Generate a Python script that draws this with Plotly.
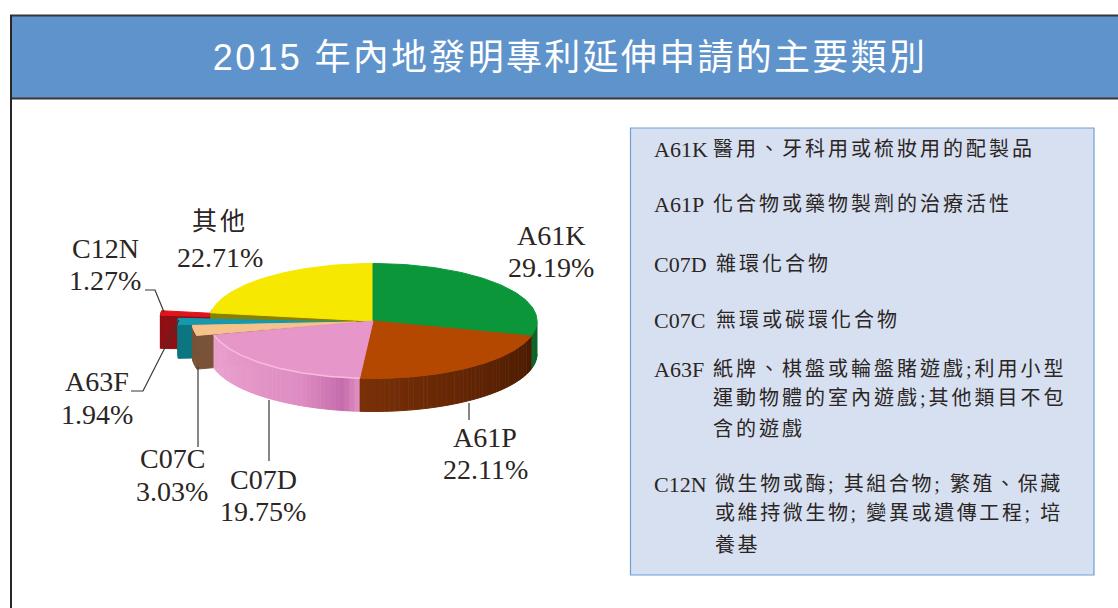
import numpy as np
import plotly.graph_objects as go

# ---- data ----
TITLE = "2015 年內地發明專利延伸申請的主要類別"
categories = ["A61K", "A61P", "C07D", "C07C", "A63F", "C12N", "其他"]
shares = [29.19, 22.11, 19.75, 3.03, 1.94, 1.27, 22.71]
share_labels = ["29.19%", "22.11%", "19.75%", "3.03%", "1.94%", "1.27%", "22.71%"]
legend_codes = ["A61K", "A61P", "C07D", "C07C", "A63F", "C12N"]
legend_lines = [
    ["醫用、牙科用或梳妝用的配製品"],
    ["化合物或藥物製劑的治療活性"],
    ["雜環化合物"],
    ["無環或碳環化合物"],
    ["紙牌、棋盤或輪盤賭遊戲;利用小型", "運動物體的室內遊戲;其他類目不包", "含的遊戲"],
    ["微生物或酶; 其組合物; 繁殖、保藏", "或維持微生物; 變異或遺傳工程; 培", "養基"],
]

# ---- style ----
W, H = 1118, 608
CX, CY, RX, RY, DEPTH = 373, 321, 164, 57.5, 33
top_colors = ["#0A9639", "#B44800", "#E696C8", "#F6C28C", "#1499AE", "#DF151D", "#F6E800"]
side_stops = [
    ["#0A6E2A", "#0A5A22"], ["#4A1A00", "#7A3008"], ["#E08FC4", "#EBA3CF"],
    ["#7A5238", "#7A5238"], ["#0A7682", "#0A7682"], ["#8E0F14", "#8E0F14"], ["#8A8000", "#8A8000"],
]
offsets = [(0, 0), (0, 0), (0, 0), (-17, 1), (-31, 1), (-49, -2), (0, 0)]
draw_order = [5, 6, 4, 3, 0, 1, 2]
SERIF = "Liberation Serif, Noto Sans CJK TC, serif"
INK = "#2b2523"

fig = go.Figure()


def poly(xs, ys, color, line=None):
    fig.add_trace(go.Scatter(
        x=xs, y=ys, mode="lines", fill="toself", fillcolor=color,
        line=dict(color=line or color, width=1),
        hoverinfo="skip", showlegend=False))


def hex2rgb(c):
    return np.array([int(c[i:i + 2], 16) for i in (1, 3, 5)], float)


def mix(a, b, t):
    v = hex2rgb(a) * (1 - t) + hex2rgb(b) * t
    return "rgb(%d,%d,%d)" % tuple(v.round())


def px(th, dx=0, dy=0):
    return CX + dx + RX * np.sin(th), CY + dy - RY * np.cos(th)


def rim_color(i, t):
    if i == 2:  # pink rim: pale at the left, deeper magenta, pale again at the seam
        if t < 0.08:
            return mix("#E493C2", "#C46CAC", t / 0.08)
        if t < 0.3:
            return mix("#C46CAC", "#DE8CC2", (t - 0.08) / 0.22)
        return mix("#DE8CC2", "#EBA3CF", (t - 0.3) / 0.7)
    return mix(side_stops[i][0], side_stops[i][1], t)


edges = np.cumsum([0] + shares) / sum(shares) * 2 * np.pi

for i in draw_order:
    a1, a2 = edges[i], edges[i + 1]
    dx, dy = offsets[i]
    tipx, tipy = CX + dx, CY + dy
    # front-facing radial wall of the pulled-out slices
    if i in (3, 4, 5, 6):
        ox, oy = px(a1, dx, dy)
        poly([tipx, ox, ox, tipx], [tipy, oy, oy + DEPTH, tipy + DEPTH], side_stops[i][1])
    # outer rim, shaded in small steps
    vis1, vis2 = max(a1, np.pi / 2), min(a2, 3 * np.pi / 2 + 0.2)
    if i in (3, 4, 5):
        vis1, vis2 = a1, a2
    if vis2 > vis1:
        n = max(2, int((vis2 - vis1) / 0.03))
        grid = np.linspace(vis1, vis2, n + 1)
        for k in range(n):
            x1, y1 = px(grid[k], dx, dy)
            x2, y2 = px(grid[k + 1], dx, dy)
            poly([x1, x2, x2, x1], [y1, y2, y2 + DEPTH, y1 + DEPTH], rim_color(i, (k + 0.5) / n))
    # top face
    th = np.linspace(a1, a2, 80)
    ax, ay = px(th, dx, dy)
    poly(np.r_[tipx, ax, tipx], np.r_[tipy, ay, tipy], top_colors[i])
    if i == 2:
        fig.add_trace(go.Scatter(x=ax, y=ay, mode="lines",
                                 line=dict(color="#F6BCDF", width=1.5),
                                 hoverinfo="skip", showlegend=False))

annotations = []
spaced = {}


def note(x, y, text, size, color=INK, anchor="center", family=SERIF, spacing=None):
    if spacing is not None:
        spaced[len(annotations)] = spacing
    annotations.append(dict(x=x, y=y, xref="x", yref="y", text=text, showarrow=False,
                            xanchor=anchor, yanchor="middle",
                            font=dict(family=family, size=size, color=color)))


note(570, 57, TITLE, 36, "#FFFFFF", family="Liberation Sans, Noto Sans CJK TC, sans-serif", spacing=2.3)

label_pos = {
    "A61K": (551, 235, 267), "A61P": (485, 437, 469), "C07D": (263, 479, 511),
    "C07C": (172, 458, 491), "A63F": (97, 381, 414), "C12N": (105, 248, 280), "其他": (220, 221, 257),
}
for c, s in zip(categories, share_labels):
    x, y1, y2 = label_pos[c]
    note(x, y1, c, 25 if c == "其他" else 28, spacing=3 if c == "其他" else None)
    note(x, y2, s, 28)

legend_y = [[149], [204], [264], [320], [369, 398, 429], [484, 513, 545]]
legend_x = [713, 713, 716, 716, 713, 715]
for code, lines, ys, lx in zip(legend_codes, legend_lines, legend_y, legend_x):
    note(652, ys[0], code, 22, anchor="left")
    for t, y in zip(lines, ys):
        note(lx - 2, y, t, 20, anchor="left", spacing=2.6 if code == "C12N" else 3)

shapes = [
    dict(type="rect", x0=11, x1=W + 5, y0=15.5, y1=98.5, fillcolor="#5F93CC",
         line=dict(color="#3a3633", width=2), layer="below"),
    dict(type="line", x0=11, x1=11, y0=15, y1=H + 5, line=dict(color="#2b2523", width=2)),
    dict(type="rect", x0=630.5, x1=1094, y0=128, y1=575, fillcolor="#D6E0F1",
         line=dict(color="#6E9FD6", width=1.2), layer="below"),
]
leaders = [
    ([145, 155, 164], [290, 290, 312]),
    ([131, 143, 179], [391, 391, 320]),
    ([198, 198], [367, 447]),
    ([269, 269], [400, 461]),
    ([469, 469], [403, 420]),
]
for xs, ys in leaders:
    fig.add_trace(go.Scatter(x=xs, y=ys, mode="lines", line=dict(color="#3a3633", width=1.2),
                             hoverinfo="skip", showlegend=False))

fig.update_layout(
    width=W, height=H, margin=dict(l=0, r=0, t=0, b=0),
    paper_bgcolor="#FFFFFF", plot_bgcolor="#FFFFFF",
    xaxis=dict(range=[0, W], visible=False, fixedrange=True),
    yaxis=dict(range=[H, 0], visible=False, fixedrange=True),
    annotations=annotations, shapes=shapes, showlegend=False,
)

left_flags = {i: annotations[i]["xanchor"] == "left" for i in spaced}
spacing_js = "".join(
    "sp(%d,%s,%s);" % (i, s, "true" if left_flags[i] else "false") for i, s in spaced.items()
)
post = (
    "document.body.style.margin='0';document.body.style.overflow='hidden';"
    "var t=document.querySelectorAll('.annotation-text');"
    "function sp(i,s,left){var e=t[i];if(!e)return;var b=e.getBBox().x;"
    "e.style.letterSpacing=s+'px';"
    "if(left){var d=b-e.getBBox().x;e.setAttribute('x',parseFloat(e.getAttribute('x'))+d);}}"
    + spacing_js
)
fig.write_html("out.html", post_script=post, config={"displayModeBar": False})
